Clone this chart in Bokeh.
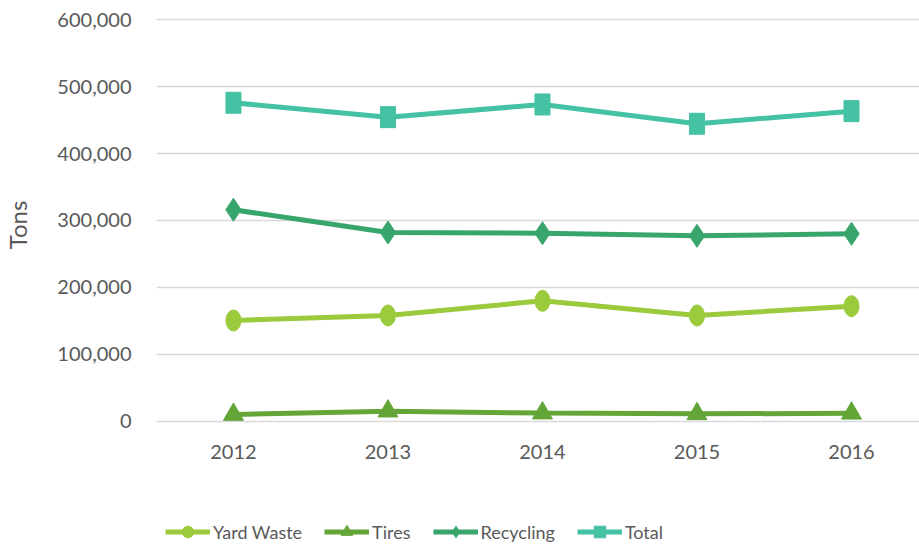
from bokeh.plotting import figure
from bokeh.layouts import column
from bokeh.models import Range1d, FixedTicker, NumeralTickFormatter, Legend, LegendItem
from bokeh.embed import file_html
from bokeh.resources import INLINE

# ---- data ----
years = [2012, 2013, 2014, 2015, 2016]
yard_waste = [150400, 157900, 179800, 157900, 171800]
tires = [9700, 14700, 11800, 10700, 11500]
recycling = [316000, 282000, 281000, 277100, 280100]
total = [476100, 454600, 473600, 444700, 463600]
y_ticks = [0, 100000, 200000, 300000, 400000, 500000, 600000]
series_names = ["Yard Waste", "Tires", "Recycling", "Total"]

# ---- styles ----
c_yard = "#9BCA3C"
c_tires = "#63A537"
c_recy = "#38A66C"
c_total = "#45C1A3"
txt = "#595959"
FONT = "Lato"

p = figure(width=919, height=496, output_backend="svg", toolbar_location=None,
           x_range=Range1d(2011.502, 2016.44), y_range=Range1d(-15700, 602200),
           min_border_left=156, min_border_right=0, min_border_top=18,
           min_border_bottom=65)
p.outline_line_color = None
p.background_fill_color = "white"
p.border_fill_color = "white"

p.xgrid.visible = False
p.ygrid.grid_line_color = "#D9D9D9"
p.ygrid.grid_line_width = 1.5

p.yaxis.ticker = FixedTicker(ticks=y_ticks)
p.yaxis.formatter = NumeralTickFormatter(format="0,0")
p.xaxis.ticker = FixedTicker(ticks=years)

for ax in (p.xaxis[0], p.yaxis[0]):
    ax.axis_line_color = None
    ax.major_tick_line_color = None
    ax.minor_tick_line_color = None
    ax.major_tick_out = 0
    ax.major_tick_in = 0
    ax.major_label_text_font = FONT
    ax.major_label_text_color = txt

p.xaxis.major_label_text_font_size = "20px"
p.yaxis.major_label_text_font_size = "20px"
p.yaxis.major_label_standoff = 25
p.xaxis.major_label_standoff = 13
p.yaxis.axis_label = "Tons"
p.yaxis.axis_label_text_font = FONT
p.yaxis.axis_label_text_font_size = "24px"
p.yaxis.axis_label_text_font_style = "normal"
p.yaxis.axis_label_text_color = txt
p.yaxis.axis_label_standoff = 22

# Yard Waste
p.line(years, yard_waste, line_color=c_yard, line_width=5)
p.ellipse(years, yard_waste, width=15, height=21, width_units="screen", height_units="screen",
          fill_color=c_yard, line_color=c_yard)
# Tires
p.line(years, tires, line_color=c_tires, line_width=5)
p.scatter(years, tires, marker="triangle", size=20, fill_color=c_tires, line_color=c_tires)
# Recycling
p.line(years, recycling, line_color=c_recy, line_width=5)
p.scatter(years, recycling, marker="diamond", size=23, fill_color=c_recy, line_color=c_recy)
# Total
p.line(years, total, line_color=c_total, line_width=5)
p.rect(years, total, width=15, height=21, width_units="screen", height_units="screen",
       fill_color=c_total, line_color=c_total)

# ---- legend strip (separate figure, its glyphs fall outside its own ranges) ----
lg = figure(width=919, height=50, output_backend="svg", toolbar_location=None,
            x_range=Range1d(0, 1), y_range=Range1d(-1e7, -9e6),
            x_axis_location=None, y_axis_location=None,
            min_border_left=0, min_border_right=0, min_border_top=0, min_border_bottom=0)
lg.outline_line_color = None
lg.grid.visible = False
specs = [(yard_waste, c_yard, "circle"), (tires, c_tires, "triangle"),
         (recycling, c_recy, "diamond"), (total, c_total, "square")]
items = []
for name, (vals, col, mk) in zip(series_names, specs):
    rl = lg.line(years, vals, line_color=col, line_width=5)
    rm = lg.scatter(years, vals, marker=mk, fill_color=col, line_color=col)
    items.append(LegendItem(label=name, renderers=[rl, rm]))

legend = Legend(items=items, orientation="horizontal", location=(9, 0), padding=0, margin=0,
                spacing=22, glyph_width=45, glyph_height=29, label_standoff=3,
                border_line_color=None, background_fill_alpha=0,
                label_text_font=FONT, label_text_font_size="18px", label_text_color=txt)
lg.add_layout(legend)

layout = column(p, lg, spacing=0)
with open("out.html", "w") as f:
    f.write(file_html(layout, INLINE))
